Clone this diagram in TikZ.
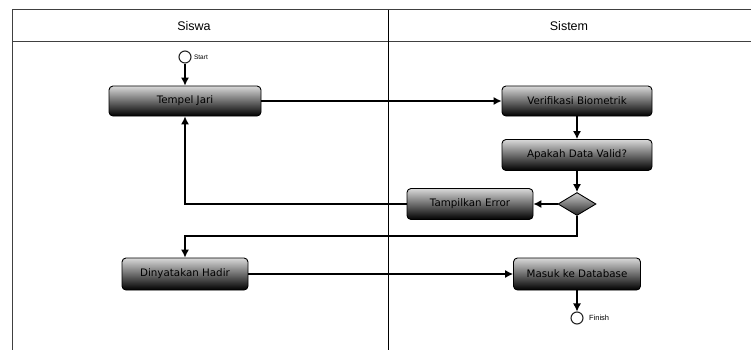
\documentclass[tikz,border=0pt]{standalone}
\usepackage{fontspec}
\setmainfont{Liberation Sans}
\newfontfamily\boxfont{DejaVu Sans}
\usepackage{tikz}
\usetikzlibrary{shapes.geometric,arrows.meta,positioning,calc}

\begin{document}
\begin{tikzpicture}[
    x=1pt, y=-1pt,
    lane/.style={draw=black!75, line width=1pt},
    aksi/.style={rectangle, draw=black, line width=0.9pt, rounded corners=4pt, top color=gray!30, bottom color=black, minimum height=30pt, text=black, font=\boxfont\fontsize{10.3}{12}\selectfont},
    cabang/.style={diamond, draw=black, line width=0.9pt, top color=gray!40, bottom color=black!85, minimum width=38pt, minimum height=23pt, inner sep=0pt},
    ujung/.style={circle, draw=black!85, fill=white, line width=1.1pt, minimum size=12pt, inner sep=0pt},
    arrow/.style={-{Latex[length=8pt,width=8pt]}, line width=1.1pt}
]
    \useasboundingbox (0,0) rectangle (751,350);

    % swimlanes
    \draw[lane] (12,350) -- (12,10) -- (751,10);
    \draw[lane] (12,42) -- (751,42);
    \draw[lane, draw=black] (388,10) -- (388,350);
    \node[font=\fontsize{12.5}{14}\selectfont] (siswa) at (194,26) {Siswa};
    \node[font=\fontsize{12.5}{14}\selectfont] (sistem) at (569,26) {Sistem};

    % Siswa
    \node[ujung, label={[font=\fontsize{6.5}{7}\selectfont, xshift=-1pt]right:Start}] (start) at (185,57) {};
    \node[aksi, minimum width=152pt] (tempel) at (185,101) {Tempel Jari};
    \node[aksi, minimum width=126pt, minimum height=32pt] (hadir) at (185,274) {Dinyatakan Hadir};

    % Sistem
    \node[aksi, minimum width=150pt] (verif) at (577,101) {Verifikasi Biometrik};
    \node[aksi, minimum width=150pt, minimum height=31pt] (apakah) at (577,155) {Apakah Data Valid?};
    \node[cabang] (cek) at (577,204) {};
    \node[aksi, minimum width=126pt, minimum height=31pt] (error) at (470,204) {Tampilkan Error};
    \node[aksi, minimum width=127pt, minimum height=32pt] (masuk) at (577,274) {Masuk ke Database};
    \node[ujung, label={[font=\fontsize{7.5}{8}\selectfont, xshift=2pt]right:Finish}] (finish) at (577,318) {};

    \coordinate (belok) at (185,236);

    \draw[arrow] (start) -- (tempel);
    \draw[arrow] (tempel) -- (verif);
    \draw[arrow] (verif) -- (apakah);
    \draw[arrow] (apakah) -- (cek);
    \draw[arrow] (cek) -- (error);
    \draw[arrow] (error.west) -| (tempel.south);
    \draw[arrow] (cek.south) |- (belok) -- (hadir.north);
    \draw[arrow] (hadir) -- (masuk);
    \draw[arrow] (masuk) -- (finish);
\end{tikzpicture}
\end{document}
